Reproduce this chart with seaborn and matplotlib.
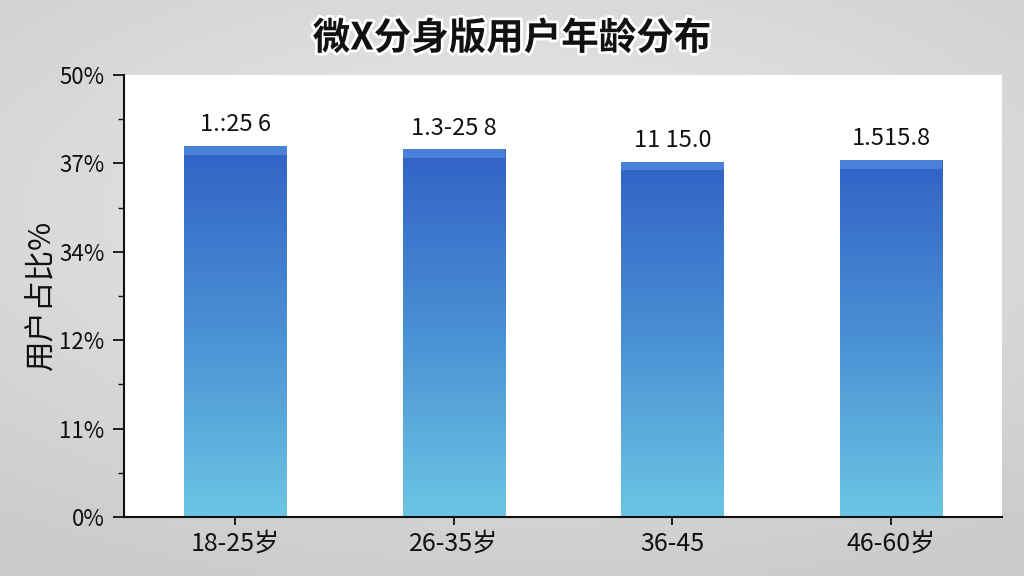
import numpy as np
import pandas as pd
import seaborn as sns
import matplotlib
matplotlib.use("Agg")
from matplotlib import pyplot as plt
from matplotlib import patheffects as pe
from matplotlib.colors import LinearSegmentedColormap

# 数据
age_groups = ["18-25岁", "26-35岁", "36-45", "46-60岁"]
user_share = [42.0, 41.6, 40.2, 40.4]
bar_labels = ["1.:25 6", "1.3-25 8", "11 15.0", "1.515.8"]
ytick_pos = [0, 10, 20, 30, 40, 50]
ytick_labels = ["0%", "11%", "12%", "34%", "37%", "50%"]

sns.set_theme(style="white")
plt.rcParams['font.family'] = ['Noto Sans CJK SC', 'DejaVu Sans']

fig = plt.figure(figsize=(10.24, 5.76), dpi=100)
fig.patch.set_facecolor("#dadada")

# 背景渐变 (浅灰)
bg = fig.add_axes([0, 0, 1, 1], zorder=-10)
yy, xx = np.mgrid[-1:1:200j, -1:1:360j]
glow = 0.92 - 0.08 * np.sqrt((xx * 0.9) ** 2 + (yy * 1.1 + 0.3) ** 2)
glow = np.clip(glow, 0.80, 0.93)
bg.imshow(np.dstack([glow, glow, glow]), aspect="auto", extent=[0, 1, 0, 1])
bg.set_axis_off()

ax = fig.add_axes([0.121, 0.1024, 0.858, 0.7674])
df = pd.DataFrame({"age": age_groups, "share": user_share})
sns.barplot(data=df, x="age", y="share", ax=ax, width=0.47, color="#3262c6", saturation=1)

cmap = LinearSegmentedColormap.from_list("bar", ["#6cc5e3", "#4a90d4", "#3262c6"])
grad = np.linspace(0, 1, 512).reshape(-1, 1)
for p in ax.patches:
    x0, w, h = p.get_x(), p.get_width(), p.get_height()
    im = ax.imshow(grad, cmap=cmap, origin="lower", aspect="auto", interpolation="bilinear",
                   extent=[x0, x0 + w, 0, h], zorder=2)
    im.set_clip_path(p)
    ax.add_patch(plt.Rectangle((x0, h - 1.0), w, 1.0, color="#4a80d8", zorder=3, lw=0))
    p.set_edgecolor("none")

for i, (v, lab) in enumerate(zip(user_share, bar_labels)):
    ax.text(i, v + 1.1, lab, ha="center", va="bottom", fontsize=17, color="#111111")

ax.set_xlim(-0.51, 3.51)
ax.set_ylim(0, 50)
ax.set_yticks(ytick_pos)
ax.set_yticklabels(ytick_labels, fontsize=16, color="#111111")
ax.set_yticks([5, 15, 25, 35, 45], minor=True)
ax.tick_params(axis="y", which="major", length=8, width=1.3, direction="out", left=True, pad=6,
               colors="#111111")
ax.tick_params(axis="y", which="minor", length=4, width=1, direction="out", left=True,
               colors="#111111")
ax.tick_params(axis="x", length=6, width=1.3, direction="out", bottom=True, labelsize=18, pad=4,
               colors="#111111")
ax.set_xlabel("")
ax.set_ylabel("用户占比%", fontsize=22, labelpad=2, color="#111111")
ax.set_facecolor("white")
for s in ["top", "right"]:
    ax.spines[s].set_visible(False)
for s in ["left", "bottom"]:
    ax.spines[s].set_color("#111111")
    ax.spines[s].set_linewidth(1.5)

fig.text(0.5, 0.934, "微X分身版用户年龄分布", ha="center", va="center", fontsize=27,
         fontweight="bold", color="#111111",
         path_effects=[pe.withStroke(linewidth=4, foreground="white")])

fig.savefig("out.png", dpi=100, facecolor=fig.get_facecolor())
